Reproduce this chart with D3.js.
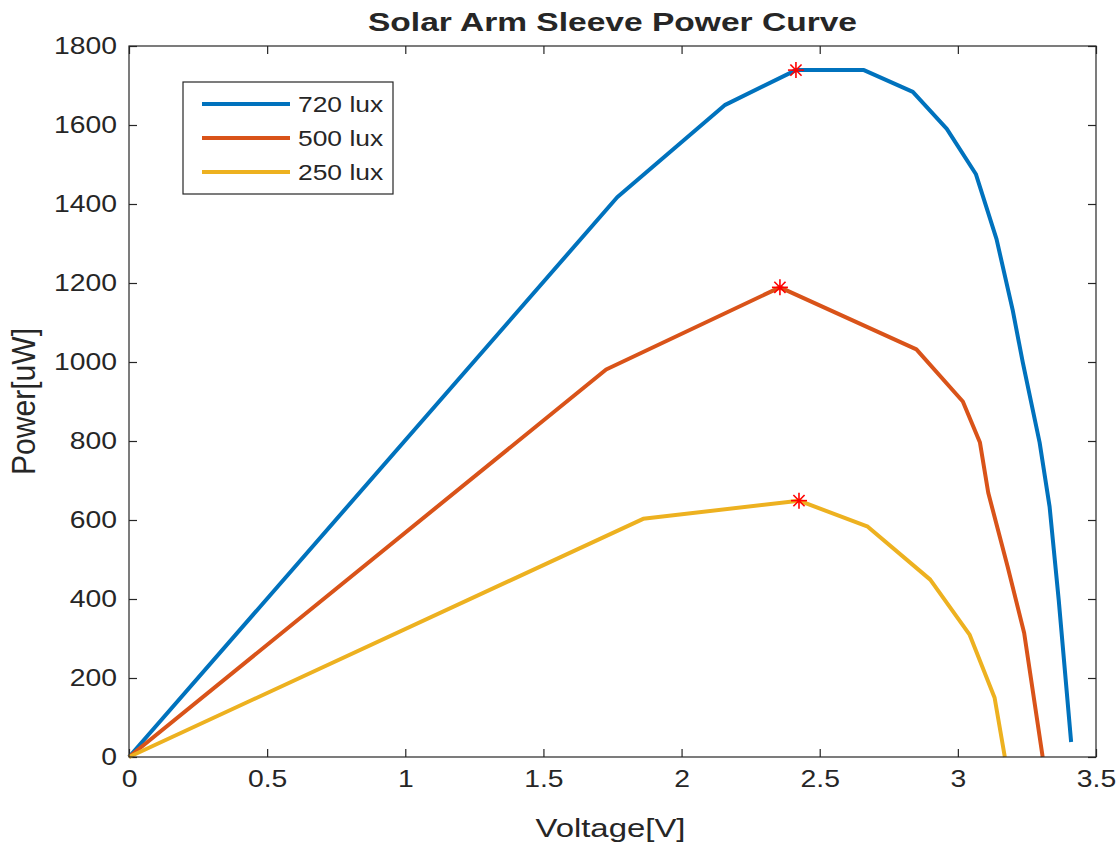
<!DOCTYPE html>
<html lang="en">
<head>
    <meta charset="UTF-8">
    <title>Solar Arm Sleeve Power Curve</title>
    <script src="https://d3js.org/d3.v7.min.js"></script>
    <style>
        body { margin: 0; background: #fff; }
        text { font-family: "Liberation Sans", Arial, sans-serif; fill: #262626; }
    </style>
</head>
<body>
    <svg width="1120" height="852"></svg>
    <script>
        // data
        const seriesNames = ["720 lux", "500 lux", "250 lux"];
        const colors = ["#0072BD", "#D95319", "#EDB120"];

        const v720 = [0, 1.767, 2.158, 2.414, 2.66, 2.837, 2.96, 3.065, 3.14, 3.198, 3.235, 3.296, 3.332, 3.365, 3.41];
        const p720 = [0, 1417, 1651, 1739, 1739, 1684, 1590, 1476, 1311, 1133, 999, 796, 634, 398, 38];

        const v500 = [0, 1.727, 2.356, 2.85, 3.018, 3.08, 3.11, 3.18, 3.24, 3.307];
        const p500 = [0, 981, 1189, 1032, 900, 796, 669, 482, 314, 0];

        const v250 = [0, 1.861, 2.425, 2.674, 2.90, 3.043, 3.133, 3.17];
        const p250 = [0, 603, 649, 583, 449, 309, 150, 0];

        // maximum power points (red stars)
        const mppV = [2.414, 2.356, 2.425];
        const mppP = [1739, 1189, 649];

        const xTicks = [0, 0.5, 1, 1.5, 2, 2.5, 3, 3.5];
        const yTicks = [0, 200, 400, 600, 800, 1000, 1200, 1400, 1600, 1800];

        const margin = { top: 46, right: 24, bottom: 95, left: 129 };
        const width = 1120 - margin.left - margin.right;
        const height = 852 - margin.top - margin.bottom;
        const SX = 1.23; // text in the reference is wider than Liberation Sans

        function stretch(sel, k) {
            sel.each(function() {
                const w = this.getComputedTextLength();
                d3.select(this).attr("textLength", w * (k || SX)).attr("lengthAdjust", "spacingAndGlyphs");
            });
        }

        const svg = d3.select("svg")
          .append("g")
            .attr("transform", `translate(${margin.left},${margin.top})`);

        const x = d3.scaleLinear().domain([0, 3.5]).range([0, width]);
        const y = d3.scaleLinear().domain([0, 1800]).range([height, 0]);

        // axes with inward ticks on all four sides
        const tickLen = 8;
        svg.append("g")
            .attr("transform", `translate(0,${height})`)
            .call(d3.axisBottom(x).tickValues(xTicks).tickSize(-tickLen).tickPadding(14).tickFormat(d3.format("")))
            .call(g => g.select(".domain").remove());
        svg.append("g")
            .call(d3.axisTop(x).tickValues(xTicks).tickSize(-tickLen).tickFormat(""))
            .call(g => g.select(".domain").remove());
        svg.append("g")
            .call(d3.axisLeft(y).tickValues(yTicks).tickSize(-tickLen).tickPadding(12).tickFormat(d3.format("")))
            .call(g => g.select(".domain").remove());
        svg.append("g")
            .attr("transform", `translate(${width},0)`)
            .call(d3.axisRight(y).tickValues(yTicks).tickSize(-tickLen).tickFormat(""))
            .call(g => g.select(".domain").remove());

        svg.selectAll(".tick line").attr("stroke", "#262626").attr("stroke-width", 1.2);
        svg.selectAll(".tick text")
            .style("font-family", "Liberation Sans, Arial, sans-serif")
            .style("font-size", "23px")
            .attr("fill", "#262626")
            .call(stretch);

        const series = [
            { v: v720, p: p720 },
            { v: v500, p: p500 },
            { v: v250, p: p250 }
        ];

        const line = d3.line()
            .x(d => x(d[0]))
            .y(d => y(d[1]));

        series.forEach((s, i) => {
            svg.append("path")
                .datum(s.v.map((v, j) => [v, s.p[j]]))
                .attr("fill", "none")
                .attr("stroke", colors[i])
                .attr("stroke-width", 4)
                .attr("stroke-linejoin", "round")
                .attr("d", line);
        });

        // asterisk markers
        const star = svg.selectAll(".mpp")
            .data(mppV.map((v, i) => [v, mppP[i]]))
          .enter().append("g")
            .attr("class", "mpp")
            .attr("transform", d => `translate(${x(d[0])},${y(d[1])})`);
        const r = 8;
        [[-r, 0, r, 0], [0, -r, 0, r], [-r * 0.7, -r * 0.7, r * 0.7, r * 0.7], [-r * 0.7, r * 0.7, r * 0.7, -r * 0.7]].forEach(c => {
            star.append("line")
                .attr("x1", c[0]).attr("y1", c[1]).attr("x2", c[2]).attr("y2", c[3])
                .attr("stroke", "#ff0000").attr("stroke-width", 1.6);
        });

        // box
        svg.append("rect")
            .attr("width", width)
            .attr("height", height)
            .attr("fill", "none")
            .attr("stroke", "#262626")
            .attr("stroke-width", 1.2);

        // legend
        const legend = svg.append("g").attr("transform", `translate(${183 - margin.left},${82 - margin.top})`);
        legend.append("rect")
            .attr("width", 210).attr("height", 112)
            .attr("fill", "#fff").attr("stroke", "#262626").attr("stroke-width", 1.2);
        seriesNames.forEach((name, i) => {
            const ly = 22 + i * 34;
            legend.append("line")
                .attr("x1", 19).attr("x2", 107).attr("y1", ly).attr("y2", ly)
                .attr("stroke", colors[i]).attr("stroke-width", 4);
            legend.append("text")
                .attr("x", 115).attr("y", ly + 8)
                .style("font-size", "22px")
                .text(name)
                .call(stretch, 1.2);
        });

        // title and axis labels
        svg.append("text")
            .attr("x", width / 2).attr("y", -15)
            .attr("text-anchor", "middle")
            .style("font-size", "26px").style("font-weight", "bold")
            .attr("fill", "#000")
            .attr("textLength", 489).attr("lengthAdjust", "spacingAndGlyphs")
            .text("Solar Arm Sleeve Power Curve");

        svg.append("text")
            .attr("x", width / 2 - 2).attr("y", height + 80)
            .attr("text-anchor", "middle")
            .style("font-size", "26px")
            .attr("textLength", 150).attr("lengthAdjust", "spacingAndGlyphs")
            .text("Voltage[V]");

        svg.append("text")
            .attr("transform", `translate(${35 - margin.left},${height / 2}) scale(1.25,1) rotate(-90)`)
            .attr("text-anchor", "middle")
            .style("font-size", "26px")
            .attr("textLength", 147).attr("lengthAdjust", "spacingAndGlyphs")
            .text("Power[uW]");
    </script>
</body>
</html>
